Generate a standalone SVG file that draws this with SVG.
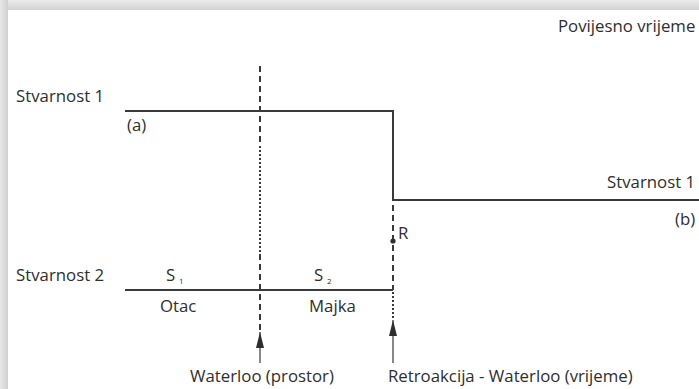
<svg xmlns="http://www.w3.org/2000/svg" width="699" height="389" viewBox="0 0 699 389">
  <defs>
    <linearGradient id="topShade" x1="0" y1="0" x2="0" y2="1">
      <stop offset="0" stop-color="#ececec"/>
      <stop offset="1" stop-color="#d2d2d2"/>
    </linearGradient>
    <linearGradient id="leftShade" x1="0" y1="0" x2="1" y2="0">
      <stop offset="0" stop-color="#e8e8e8"/>
      <stop offset="1" stop-color="#d0d0d0"/>
    </linearGradient>
    <marker id="arrow" viewBox="0 0 16 8" refX="16" refY="4" markerWidth="16" markerHeight="8" markerUnits="userSpaceOnUse" orient="auto">
      <path d="M0,0 L16,4 L0,8 Z" fill="#2e2e2e"/>
    </marker>
    <style>
      .t { font-family: "Open Sans", "Liberation Sans", sans-serif; font-size: 16.8px; fill: #2e2e2e; }
      .sub { font-family: "Open Sans", "Liberation Sans", sans-serif; font-size: 8px; fill: #2e2e2e; }
      .solid { stroke: #3a3a3a; stroke-width: 2; fill: none; }
      .dash { stroke: #3a3a3a; stroke-width: 2; fill: none; stroke-dasharray: 6 4; }
      .dot { stroke: #3a3a3a; stroke-width: 2; fill: none; stroke-dasharray: 2 2; }
      .thin { stroke: #3a3a3a; stroke-width: 1.2; fill: none; }
    </style>
  </defs>

  <g id="background">
    <rect x="0" y="0" width="699" height="389" fill="#ffffff"/>
    <rect x="0" y="0" width="699" height="10" fill="url(#topShade)"/>
    <rect x="0" y="0" width="8" height="389" fill="url(#leftShade)"/>
  </g>

  <g id="connectors">
    <path class="solid" d="M125,111 H393 V200 H699"/>
    <path class="solid" d="M125,290 H393"/>
    <path class="dash" d="M260,66 V145"/>
    <path class="dot" d="M260,146 V252"/>
    <path class="dash" d="M260,254 V330"/>
    <path class="thin" d="M260,363 V332" marker-end="url(#arrow)"/>
    <path class="dash" d="M393,205 V290"/>
    <path class="dot" d="M393,292 V318"/>
    <path class="thin" d="M393,363 V320" marker-end="url(#arrow)"/>
    <circle cx="393" cy="241" r="2.6" fill="#2e2e2e"/>
  </g>

  <g id="povijesno-vrijeme"><text class="t" x="558" y="32">Povijesno vrijeme</text></g>
  <g id="stvarnost1-left"><text class="t" x="16" y="102">Stvarnost 1</text></g>
  <g id="label-a"><text class="t" x="127" y="131">(a)</text></g>
  <g id="stvarnost1-right"><text class="t" x="607" y="188">Stvarnost 1</text></g>
  <g id="label-b"><text class="t" x="675" y="225">(b)</text></g>
  <g id="label-r"><text class="t" x="398" y="239">R</text></g>
  <g id="stvarnost2"><text class="t" x="16" y="281">Stvarnost 2</text></g>
  <g id="s1"><text class="t" x="166" y="281">S</text><text class="sub" x="179" y="284">1</text></g>
  <g id="s2"><text class="t" x="314" y="281">S</text><text class="sub" x="327" y="284">2</text></g>
  <g id="otac"><text class="t" x="160" y="312">Otac</text></g>
  <g id="majka"><text class="t" x="309" y="312">Majka</text></g>
  <g id="waterloo-prostor"><text class="t" x="190" y="382">Waterloo (prostor)</text></g>
  <g id="retroakcija"><text class="t" x="388" y="382">Retroakcija - Waterloo (vrijeme)</text></g>
</svg>
